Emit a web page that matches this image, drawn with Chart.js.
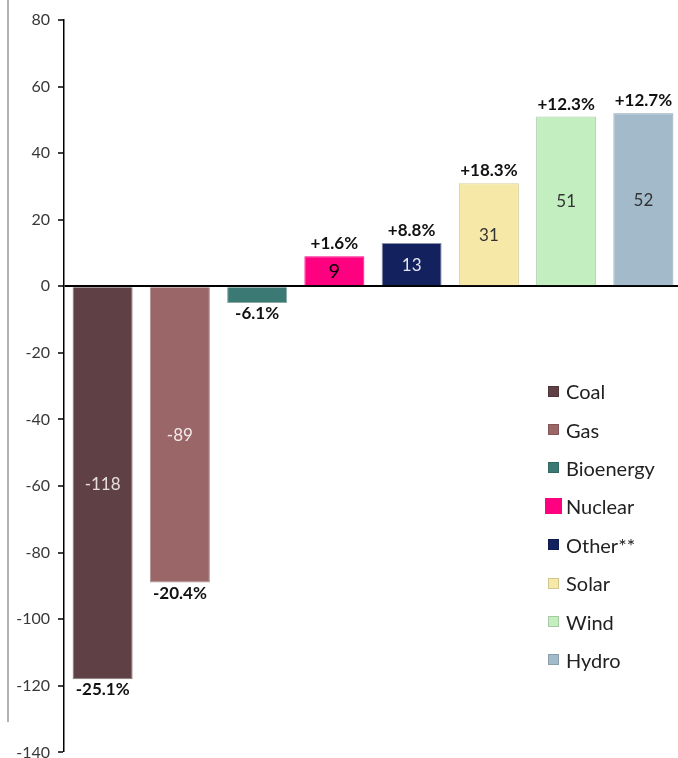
<!DOCTYPE html>
<html>
<head>
<meta charset="utf-8">
<script src="https://cdn.jsdelivr.net/npm/chart.js@4/dist/chart.umd.min.js"></script>
<style>
  html, body { margin: 0; padding: 0; background: #fff; overflow: hidden; }
  #wrap { position: relative; width: 678px; height: 758px; overflow: hidden; background: #fff; }
  #edge { position: absolute; left: 7px; top: 0; width: 0; height: 722px; border-left: 2px solid #b4b4b4; }
  #c { position: absolute; left: 0; top: 0; }
  #legend { position: absolute; left: 546px; top: 372px; font-family: Lato, "Open Sans", sans-serif; font-size: 20px; color: #222; }
  .item { position: relative; height: 38.4px; display: flex; align-items: center; white-space: nowrap; }
  .sw { width: 11px; height: 11px; margin-left: 2px; margin-right: 7px; box-sizing: border-box; border: 1px solid rgba(0,0,0,0.15); }
  .sw.big { width: 17px; height: 16px; margin-left: -1px; margin-right: 4px; border: none; }
</style>
</head>
<body>
<div id="wrap">
  <div id="edge"></div>
  <canvas id="c" width="690" height="770"></canvas>
  <div id="legend"></div>
</div>
<script>
// ---- data ----
const categories = ['Coal', 'Gas', 'Bioenergy', 'Nuclear', 'Other**', 'Solar', 'Wind', 'Hydro'];
const changeValues = [-118, -89, -5, 9, 13, 31, 51, 52];
const innerLabels = ['-118', '-89', '', '9', '13', '31', '51', '52'];
const changePercent = ['-25.1%', '-20.4%', '-6.1%', '+1.6%', '+8.8%', '+18.3%', '+12.3%', '+12.7%'];
const yMin = -140, yMax = 80, yStep = 20;

// ---- styles ----
const barColors = ['#5E4045', '#9B6668', '#3B7A74', '#FF0080', '#13215E', '#F6E9A8', '#C3EEC0', '#A3BACB'];
const barBorders = ['#8a7a7c', '#a99293', '#8aa8a5', '#FF0080', '#8b92ad', '#d9cf9d', '#a9cfa5', '#8fa3b2'];
const innerColors = ['#e6dede', '#f2eaea', '#ffffff', '#000000', '#e4e6f0', '#333333', '#333333', '#333333'];
const FONT = 'Lato, "Open Sans", sans-serif';

const labelPlugin = {
  id: 'barLabels',
  afterDatasetsDraw(chart) {
    const ctx = chart.ctx;
    const meta = chart.getDatasetMeta(0);
    ctx.save();
    ctx.textAlign = 'center';
    meta.data.forEach((bar, i) => {
      const v = changeValues[i];
      if (innerLabels[i]) {
        ctx.fillStyle = innerColors[i];
        ctx.font = (i === 3 ? '20px ' : '17px ') + FONT;
        ctx.textBaseline = 'middle';
        ctx.fillText(innerLabels[i], bar.x, (bar.y + bar.base) / 2 + 1);
      }
      ctx.fillStyle = '#111';
      ctx.font = 'bold 17px ' + FONT;
      if (v >= 0) {
        ctx.textBaseline = 'bottom';
        ctx.fillText(changePercent[i], bar.x, bar.y - 4);
      } else {
        ctx.textBaseline = 'top';
        ctx.fillText(changePercent[i], bar.x, bar.y + 2);
      }
    });
    ctx.restore();
  }
};

new Chart(document.getElementById('c'), {
  type: 'bar',
  data: {
    labels: categories,
    datasets: [{
      data: changeValues,
      backgroundColor: barColors,
      borderColor: barBorders,
      borderWidth: 1,
      barPercentage: 0.777,
      categoryPercentage: 1
    }]
  },
  options: {
    responsive: false,
    devicePixelRatio: 1,
    animation: false,
    layout: { padding: { left: 0, right: 8, top: 20, bottom: 17 } },
    plugins: { legend: { display: false }, tooltip: { enabled: false } },
    scales: {
      x: { display: false, offset: true },
      y: {
        min: yMin, max: yMax,
        ticks: { stepSize: yStep, color: '#383838', font: { family: FONT, size: 16 }, padding: 8 },
        grid: {
          drawOnChartArea: true,
          drawTicks: true,
          tickLength: 6,
          tickColor: '#000',
          tickWidth: 1.5,
          color: (c) => (c.tick && c.tick.value === 0 ? '#000' : 'rgba(0,0,0,0)'),
          lineWidth: (c) => (c.tick && c.tick.value === 0 ? 2 : 0)
        },
        border: { display: true, color: '#000', width: 1.5 },
        afterFit(scale) { scale.width = 64; }
      }
    }
  },
  plugins: [labelPlugin]
});

const leg = document.getElementById('legend');
categories.forEach((name, i) => {
  const it = document.createElement('div');
  it.className = 'item';
  const sw = document.createElement('span');
  sw.className = 'sw' + (name === 'Nuclear' ? ' big' : '');
  sw.style.background = barColors[i];
  const tx = document.createElement('span');
  tx.textContent = name;
  it.appendChild(sw);
  it.appendChild(tx);
  leg.appendChild(it);
});
</script>
</body>
</html>
